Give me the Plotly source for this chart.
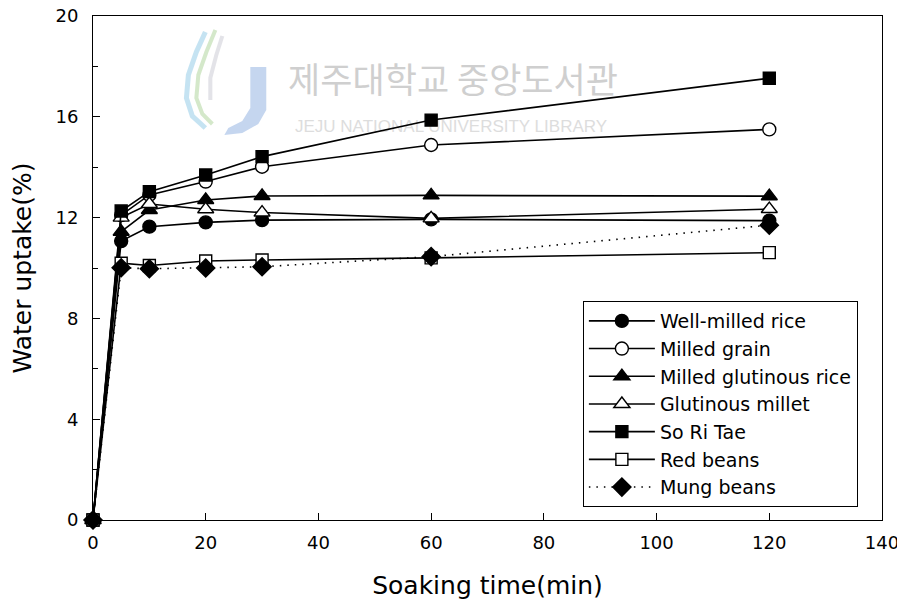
import plotly.graph_objects as go

# ---- data ----
soak_time = [0, 5, 10, 20, 30, 60, 120]
well_milled_rice = [0, 11.07, 11.64, 11.81, 11.90, 11.93, 11.88]
milled_grain = [0, 12.10, 12.90, 13.43, 14.02, 14.88, 15.50]
milled_glutinous_rice = [0, 11.44, 12.30, 12.70, 12.86, 12.88, 12.85]
glutinous_millet = [0, 12.00, 12.54, 12.33, 12.20, 11.97, 12.34]
so_ri_tae = [0, 12.26, 13.03, 13.69, 14.42, 15.87, 17.53]
red_beans = [0, 10.19, 10.10, 10.28, 10.32, 10.40, 10.61]
mung_beans = [0, 10.01, 9.97, 10.00, 10.05, 10.45, 11.70]

x_ticks = [0, 20, 40, 60, 80, 100, 120, 140]
y_ticks = [0, 4, 8, 12, 16, 20]

series = [
    ("Well-milled rice", well_milled_rice, "circle", "black", 13, "solid"),
    ("Milled grain", milled_grain, "circle", "white", 13, "solid"),
    ("Milled glutinous rice", milled_glutinous_rice, "triangle-up", "black", 14, "solid"),
    ("Glutinous millet", glutinous_millet, "triangle-up", "white", 14, "solid"),
    ("So Ri Tae", so_ri_tae, "square", "black", 12, "solid"),
    ("Red beans", red_beans, "square", "white", 12, "solid"),
    ("Mung beans", mung_beans, "diamond", "black", 14, "1.5px,6px"),
]

FONT = "DejaVu Sans, Liberation Sans, Arial, sans-serif"
OFF = 8  # page body margin
W, H = 905 - OFF, 603 - OFF
# plot area in screen pixels
SL, SR, ST, SB = 92.5, 882.5, 16, 520


def px(xp, yp):
    return (xp - SL) / (SR - SL), (SB - yp) / (SB - ST)


fig = go.Figure()
for name, vals, sym, fill, size, dash in series:
    fig.add_trace(go.Scatter(
        x=soak_time, y=vals, name=name, mode="lines+markers",
        line=dict(color="black", width=1.6, dash=dash),
        marker=dict(symbol=sym, size=size, color=fill,
                    line=dict(color="black", width=1.4)),
        cliponaxis=False,
    ))

# ---- watermark (below traces) ----
shapes = []
kx, ky = px(453, 83)
ex, ey = px(451, 124)
shapes.append(dict(type="rect", xref="paper", yref="paper",
                   x0=kx - 0.2, x1=kx + 0.2, y0=ky - 0.04, y1=ky + 0.04,
                   line=dict(width=0), fillcolor="rgba(0,0,0,0)", layer="below",
                   label=dict(text="제주대학교 중앙도서관",
                              font=dict(family="Noto Sans CJK KR", size=35, color="#cfcfcf"),
                              textposition="middle center")))
shapes.append(dict(type="rect", xref="paper", yref="paper",
                   x0=ex - 0.22, x1=ex + 0.22, y0=ey - 0.02, y1=ey + 0.02,
                   line=dict(width=0), fillcolor="rgba(0,0,0,0)", layer="below",
                   label=dict(text="JEJU NATIONAL UNIVERSITY LIBRARY",
                              font=dict(family="Liberation Sans, Arial", size=17, color="#dddddd"),
                              textposition="middle center")))


def path_from(points):
    s = ""
    for i, (a, b) in enumerate(points):
        u, v = px(a, b)
        s += ("M" if i == 0 else "L") + f"{u:.4f},{v:.4f} "
    return s


# J
jpts = [(250, 67), (266, 67), (266, 110), (258, 124), (242, 133), (224, 135),
        (228, 128), (242, 121), (250, 108)]
shapes.append(dict(type="path", xref="paper", yref="paper", path=path_from(jpts) + "Z",
                   fillcolor="rgba(150,180,225,0.55)", line=dict(width=0), layer="below"))
# swooshes
sw1 = [(205, 32), (196, 52), (188, 75), (186, 98), (192, 116), (205, 128)]
sw2 = [(215, 30), (206, 52), (198, 75), (196, 98), (202, 114), (212, 124)]
sw3 = [(222, 36), (216, 55), (210, 78), (210, 100)]
shapes.append(dict(type="path", xref="paper", yref="paper", path=path_from(sw1),
                   line=dict(color="rgba(140,200,230,0.5)", width=5), layer="below"))
shapes.append(dict(type="path", xref="paper", yref="paper", path=path_from(sw2),
                   line=dict(color="rgba(170,210,150,0.5)", width=4), layer="below"))
shapes.append(dict(type="path", xref="paper", yref="paper", path=path_from(sw3),
                   line=dict(color="rgba(200,200,210,0.5)", width=4), layer="below"))

axis_common = dict(
    showline=True, linecolor="black", linewidth=1, mirror=True,
    ticks="inside", ticklen=7, tickwidth=1, tickcolor="black",
    showgrid=False, zeroline=False, ticklabeloverflow="allow",
    tickfont=dict(family=FONT, size=18, color="black"),
)

fig.update_layout(
    width=W, height=H,
    margin=dict(l=SL - OFF, r=(W + OFF) - SR, t=ST - OFF, b=(H + OFF) - SB, autoexpand=False),
    paper_bgcolor="white", plot_bgcolor="white",
    font=dict(family=FONT, color="black"),
    shapes=shapes,
    showlegend=True,
    legend=dict(
        x=px(583, 0)[0], y=px(0, 301)[1], xanchor="left", yanchor="top",
        bordercolor="black", borderwidth=1, bgcolor="white",
        font=dict(family=FONT, size=19, color="black"),
        itemwidth=66, tracegroupgap=0,
    ),
    xaxis=dict(
        **axis_common, range=[0, 140], tickvals=x_ticks,
        ticklabelstandoff=6,
        title=dict(text="Soaking time(min)", font=dict(family=FONT, size=25), standoff=24),
    ),
    yaxis=dict(
        **axis_common, range=[0, 20], tickvals=y_ticks,
        ticklabelstandoff=10,
        minor=dict(ticks="inside", ticklen=5, tickcolor="black", dtick=2, tick0=0),
        title=dict(text="Water uptake(%)", font=dict(family=FONT, size=25), standoff=18),
    ),
)

fig.write_html("out.html")
